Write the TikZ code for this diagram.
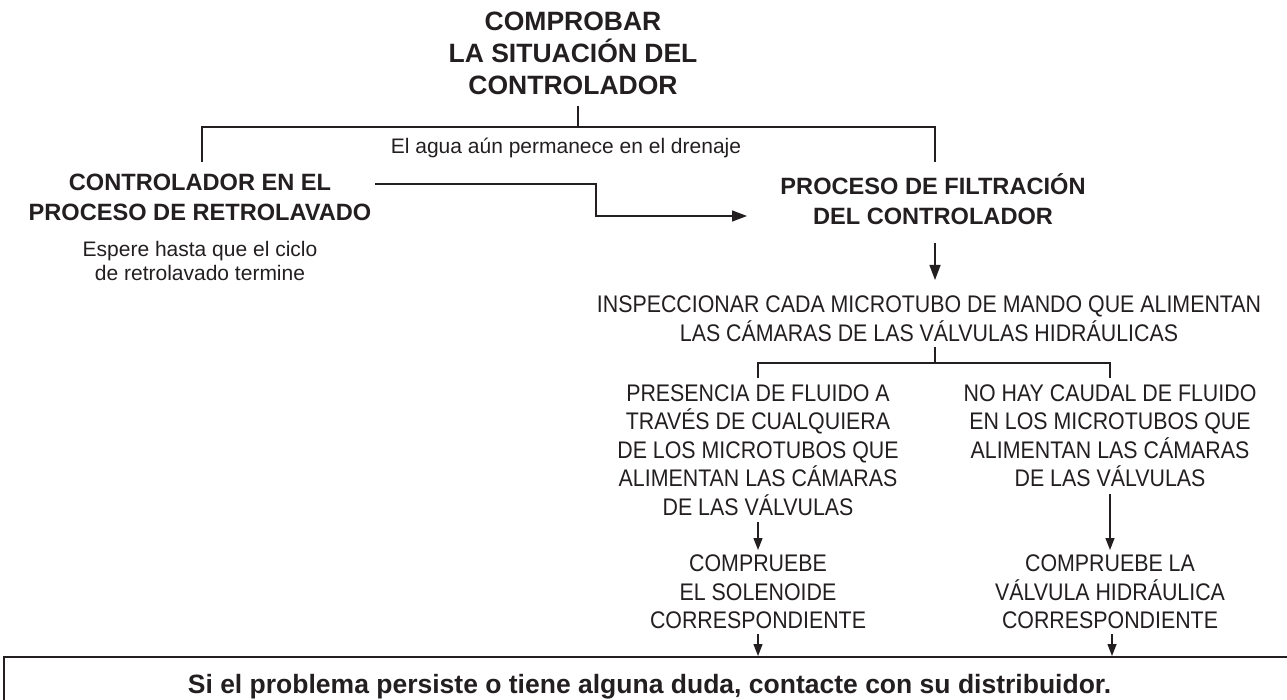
\documentclass[tikz,border=0pt]{standalone}
\usepackage{fontspec}
\setmainfont{Liberation Sans}
\newfontfamily\narrowfont[FakeStretch=0.89]{Liberation Sans}
\usetikzlibrary{arrows.meta}
\definecolor{ink}{HTML}{231F20}
\begin{document}
\begin{tikzpicture}[x=1pt,y=-1pt,
  every node/.style={inner sep=0pt, outer sep=0pt, text=ink},
  title/.style={font=\fontsize{26.5}{32}\selectfont\bfseries, align=center},
  head/.style={font=\fontsize{23.6}{30}\selectfont\bfseries, align=center},
  note/.style={font=\fontsize{21}{24}\selectfont, align=center},
  caps/.style={font=\narrowfont\fontsize{24}{28.5}\selectfont, align=center},
  foot/.style={font=\fontsize{26.5}{30}\selectfont\bfseries},
  link/.style={draw=ink, line width=1.3pt},
  arr/.style={link, -{Triangle[length=15pt,width=11pt]}},
  sarr/.style={link, -{Triangle[length=12pt,width=9pt]}},
  boxline/.style={draw=ink, line width=2.5pt},
]
\useasboundingbox (0,0) rectangle (1287,700);

% texts
\node[title] (title) at (573,53.5) {COMPROBAR\\LA SITUACIÓN DEL\\CONTROLADOR};
\node[note, anchor=base] (lab) at (566,154) {El agua aún permanece en el drenaje};
\node[head] (lh) at (200,197) {CONTROLADOR EN EL\\PROCESO DE RETROLAVADO};
\node[note] (wait) at (200,261) {Espere hasta que el ciclo\\de retrolavado termine};
\node[head] (rh) at (933,199) {PROCESO DE FILTRACIÓN\\DEL CONTROLADOR};
\node[caps] (insp) at (929,318.5) {INSPECCIONAR CADA MICROTUBO DE MANDO QUE ALIMENTAN\\LAS CÁMARAS DE LAS VÁLVULAS HIDRÁULICAS};
\node[caps] (pres) at (758,450) {PRESENCIA DE FLUIDO A\\TRAVÉS DE CUALQUIERA\\DE LOS MICROTUBOS QUE\\ALIMENTAN LAS CÁMARAS\\DE LAS VÁLVULAS};
\node[caps] (nohay) at (1110,435.75) {NO HAY CAUDAL DE FLUIDO\\EN LOS MICROTUBOS QUE\\ALIMENTAN LAS CÁMARAS\\DE LAS VÁLVULAS};
\node[caps] (sol) at (758,592) {COMPRUEBE\\EL SOLENOIDE\\CORRESPONDIENTE};
\node[caps] (hid) at (1110,592) {COMPRUEBE LA\\VÁLVULA HIDRÁULICA\\CORRESPONDIENTE};
\node[foot, anchor=base] (foot) at (649.5,693) {Si el problema persiste o tiene alguna duda, contacte con su distribuidor.};

% bottom box
\coordinate (boxbl) at (4,705);
\coordinate (boxtr) at (1295,657);
\draw[boxline] (boxbl) |- (boxtr);

% top split
\coordinate (t0) at (578,106);
\coordinate (jtop) at (578,127);
\coordinate (jl) at (202,127);
\coordinate (jr) at (935,127);
\coordinate (jl2) at (202,162);
\coordinate (jr2) at (935,162);
\draw[link] (t0) -- (jtop);
\draw[link] (jl2) -- (jl) -- (jr) -- (jr2);

% retrolavado -> filtracion
\coordinate (a0) at (375,184);
\coordinate (a1) at (596,184);
\coordinate (a2) at (596,216);
\coordinate (a3) at (747,216);
\draw[arr] (a0) -- (a1) -- (a2) -- (a3);

% filtracion -> inspeccionar
\coordinate (v0) at (935,243);
\coordinate (v1) at (935,280);
\draw[arr] (v0) -- (v1);

% second split
\coordinate (s0) at (935,347);
\coordinate (s1) at (935,363);
\coordinate (sl) at (758,363);
\coordinate (sr) at (1110,363);
\coordinate (sl2) at (758,378);
\coordinate (sr2) at (1110,378);
\draw[link] (s0) -- (s1);
\draw[link] (sl2) -- (sl) -- (sr) -- (sr2);

% column arrows
\coordinate (c0) at (758,522);
\coordinate (c1) at (758,550);
\coordinate (d0) at (1110,494);
\coordinate (d1) at (1110,550);
\draw[sarr] (c0) -- (c1);
\draw[sarr] (d0) -- (d1);

% to bottom box
\coordinate (e0) at (758,634);
\coordinate (e1) at (758,656);
\coordinate (f0) at (1112,634);
\coordinate (f1) at (1112,656);
\draw[sarr] (e0) -- (e1);
\draw[sarr] (f0) -- (f1);
\end{tikzpicture}
\end{document}
